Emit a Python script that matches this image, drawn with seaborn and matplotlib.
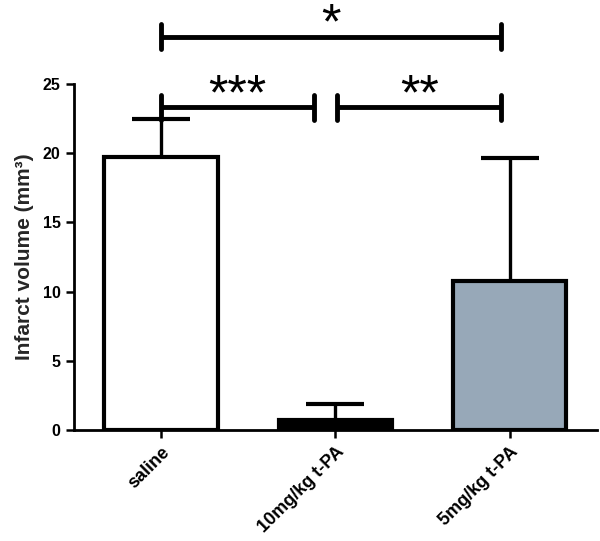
#%% Load libraries
import numpy as np
import pandas as pd
import matplotlib
matplotlib.use("Agg")
import matplotlib.pyplot as plt
import seaborn as sns

#%% Data
groups = ["saline", "10mg/kg t-PA", "5mg/kg t-PA"]
infarct_mean = [19.7, 0.7, 10.8]
infarct_err = [2.75, 1.2, 8.85]   # upper error only
sig_labels = ["***", "**", "*"]

bar_colors = ["#ffffff", "#000000", "#97a8b8"]

#%% Figure
sns.set_theme(style="ticks")
plt.rcParams['font.family'] = ['Liberation Sans', 'DejaVu Sans']

fig = plt.figure(figsize=(6.0, 5.41), dpi=100)
ax = fig.add_axes([0.123, 0.205, 0.872, 0.640])

df = pd.DataFrame({"group": groups, "volume": infarct_mean})
sns.barplot(data=df, x="group", y="volume", hue="group", palette=bar_colors,
            order=groups, hue_order=groups, width=0.65, legend=False,
            saturation=1, edgecolor="black", linewidth=3.0, errorbar=None,
            ax=ax)

xpos = np.arange(len(groups))
eb = ax.errorbar(xpos, infarct_mean, yerr=[np.zeros(len(groups)), infarct_err],
                 fmt="none", ecolor="black", elinewidth=2.4, capsize=21,
                 capthick=3.0, zorder=1)
# one-sided bars: hide the lower caps sitting on the bar tops
eb[1][0].set_visible(False)

ax.set_xlim(-0.5, 2.5)
ax.set_ylim(0, 25)
ax.set_yticks([0, 5, 10, 15, 20, 25])
ax.set_xlabel("")
ax.set_ylabel("Infarct volume (mm³)", fontsize=15, fontweight="bold", labelpad=6)

ax.tick_params(axis="both", length=6, width=1.8, color="black",
               labelsize=11.5, labelcolor="black")
for lab in ax.get_yticklabels():
    lab.set_fontweight("bold")
ax.set_xticks(xpos)
ax.set_xticklabels(groups, rotation=45, ha="right", rotation_mode="anchor",
                   fontweight="bold", fontsize=13)

sns.despine(ax=ax)
for side in ["left", "bottom"]:
    ax.spines[side].set_linewidth(2.0)
    ax.spines[side].set_color("black")

#%% Significance brackets
brackets = [(0.0, 0.88, 23.3), (1.01, 1.95, 23.3), (0.0, 1.95, 28.4)]
for (x0, x1, yb), lab in zip(brackets, sig_labels):
    ax.plot([x0, x1], [yb, yb], color="black", lw=3.5, clip_on=False,
            solid_capstyle="butt")
    ax.vlines([x0, x1], yb - 0.9, yb + 0.9, color="black", lw=3.5,
              clip_on=False, capstyle="round")
    ax.text((x0 + x1) / 2, yb - 0.15, lab, ha="center", va="baseline",
            fontsize=36, color="black")

plt.savefig("out.png", dpi=100)
